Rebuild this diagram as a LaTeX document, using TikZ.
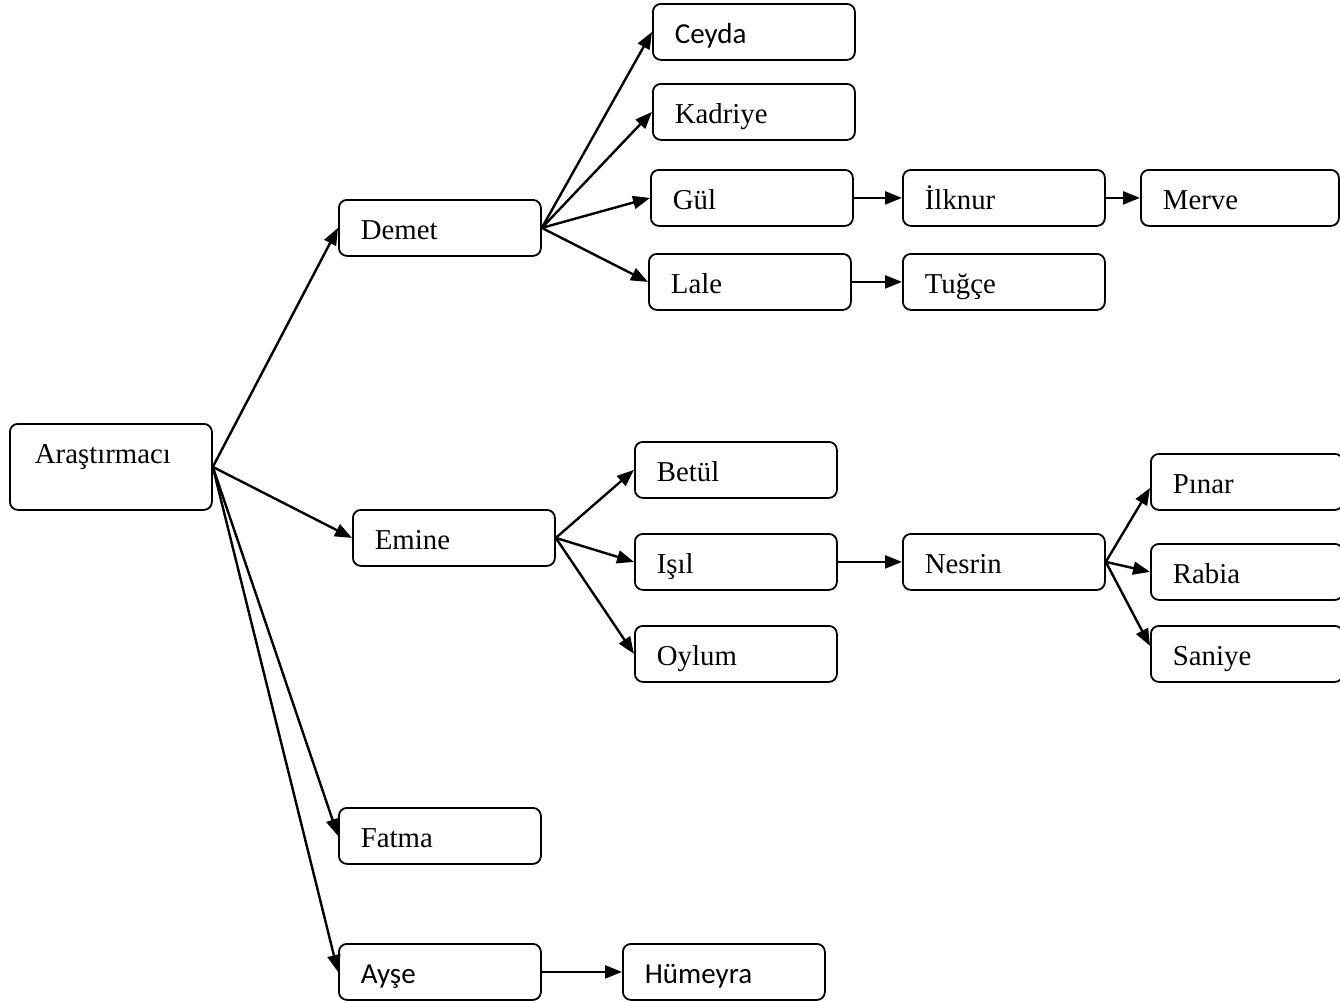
\documentclass[tikz,border=0pt]{standalone}
\usepackage{fontspec}
\setmainfont{Liberation Serif}
\newfontfamily\calibri{Carlito}
\usetikzlibrary{arrows.meta}

\begin{document}
\begin{tikzpicture}[x=0.5pt, y=-0.5pt]
        % Define styles for shapes
        \tikzstyle{box} = [draw, line width=0.9pt, rounded corners=4pt, anchor=north west,
            inner xsep=11pt, align=left, text width=79pt, minimum height=28pt,
            text height=11.5pt, text depth=0pt, font=\fontsize{14.4}{16}\selectfont]
        \tikzstyle{boxsans} = [box, font=\calibri\fontsize{14.5}{16}\selectfont]
        \tikzstyle{link} = [line width=1.2pt, -{Triangle[length=8.5pt, width=6.5pt]}]

        \clip (0,0) rectangle (1340,1001);

        % Draw shapes
        \node[box, minimum height=43pt, inner xsep=12.5pt, text width=76pt,
              text height=11.5pt, text depth=14.5pt] (arastirmaci) at (9,423) {Araştırmacı};

        \node[box] (demet) at (338,199) {Demet};
        \node[boxsans] (ceyda) at (652,3) {Ceyda};
        \node[box] (kadriye) at (652,83) {Kadriye};
        \node[box] (gul) at (650,169) {Gül};
        \node[box] (ilknur) at (902,169) {İlknur};
        \node[box, text width=77pt] (merve) at (1140,169) {Merve};
        \node[box] (lale) at (648,253) {Lale};
        \node[box] (tugce) at (902,253) {Tuğçe};

        \node[box] (emine) at (352,509) {Emine};
        \node[box] (betul) at (634,441) {Betül};
        \node[box] (isil) at (634,533) {Işıl};
        \node[box] (oylum) at (634,625) {Oylum};
        \node[box] (nesrin) at (902,533) {Nesrin};
        \node[box, text width=74pt] (pinar) at (1150,453) {Pınar};
        \node[box, text width=74pt] (rabia) at (1150,543) {Rabia};
        \node[box, text width=74pt] (saniye) at (1150,625) {Saniye};

        \node[box] (fatma) at (338,807) {Fatma};
        \node[boxsans] (ayse) at (338,943) {Ayşe};
        \node[boxsans] (humeyra) at (622,943) {Hümeyra};

        % Draw arrows
        \draw[link] (arastirmaci.east) -- (demet.west);
        \draw[link] (arastirmaci.east) -- (emine.west);
        \draw[link] (arastirmaci.east) -- (fatma.west);
        \draw[link] (arastirmaci.east) -- (ayse.west);

        \foreach \n in {ceyda, kadriye, gul, lale}
            \draw[link] (demet.east) -- (\n.west);
        \draw[link] (gul) -- (ilknur);
        \draw[link] (ilknur) -- (merve);
        \draw[link] (lale) -- (tugce);

        \foreach \n in {betul, isil, oylum}
            \draw[link] (emine.east) -- (\n.west);
        \draw[link] (isil) -- (nesrin);
        \draw[link] (nesrin.east) -- ([yshift=-3pt]pinar.west);
        \draw[link] (nesrin.east) -- (rabia.west);
        \draw[link] (nesrin.east) -- ([yshift=4pt]saniye.west);

        \draw[link] (ayse) -- (humeyra);
    \end{tikzpicture}
\end{document}
